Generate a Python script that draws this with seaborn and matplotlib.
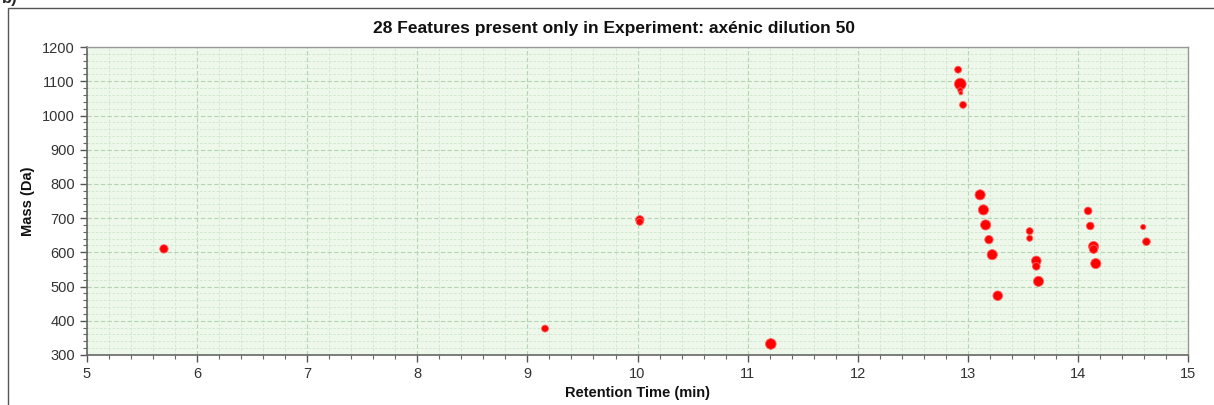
import matplotlib
matplotlib.use("Agg")
import matplotlib.pyplot as plt
from matplotlib.ticker import MultipleLocator
from matplotlib.patches import Rectangle
import seaborn as sns
import pandas as pd

# Feature data
retention_time = [5.70, 9.16, 10.02, 10.02, 11.21,
                  12.91, 12.93, 12.93, 12.935, 12.955,
                  13.11, 13.14, 13.16, 13.19, 13.22, 13.27,
                  13.56, 13.56, 13.62, 13.62, 13.64,
                  14.09, 14.11, 14.14, 14.14, 14.16,
                  14.59, 14.62]
mass = [610, 377, 695, 689, 332,
        1134, 1092, 1074, 1066, 1031,
        768, 724, 680, 637, 593, 473,
        662, 641, 575, 559, 515,
        721, 677, 617, 609, 567,
        674, 631]
abundance = [3, 2, 3, 2, 5,
             2, 6, 1, 0.5, 2,
             4.5, 4.5, 4.5, 3, 4.5, 4,
             2, 1.5, 4, 2.5, 4.5,
             2.5, 2.5, 4.5, 3, 4.5,
             1, 2.5]

title = "28 Features present only in Experiment: axénic dilution 50"
xlabel = "Retention Time (min)"
ylabel = "Mass (Da)"

df = pd.DataFrame({"rt": retention_time, "mass": mass, "ab": abundance})

sns.set_style("white")
plt.rcParams["font.family"] = ["Liberation Sans", "DejaVu Sans"]

W, H = 1214, 405
fig = plt.figure(figsize=(W / 100, H / 100), dpi=100)
ax = fig.add_axes([86.8 / W, 1 - 354.9 / H, (1188.3 - 86.8) / W, (354.9 - 47.1) / H])
ax.set_facecolor("#edf7ea")

sns.scatterplot(data=df, x="rt", y="mass", size="ab", sizes=(8, 70),
                color="#ff0000", edgecolor="#ff6060", linewidth=0.6,
                legend=False, ax=ax, zorder=3)

ax.set_xlim(5, 15)
ax.set_ylim(300, 1200)
ax.xaxis.set_major_locator(MultipleLocator(1))
ax.xaxis.set_minor_locator(MultipleLocator(0.2))
ax.yaxis.set_major_locator(MultipleLocator(100))
ax.yaxis.set_minor_locator(MultipleLocator(20))

ax.grid(which="major", color="#b5d5b2", linestyle=(0, (4, 2)), linewidth=0.8, zorder=0)
ax.grid(which="minor", color="#cfe6cc", linestyle=(0, (3, 2)), linewidth=0.6, zorder=0)
ax.set_axisbelow(True)

ax.tick_params(which="major", direction="out", length=5, width=1, color="#555555",
               labelsize=10.5, labelcolor="#333333", bottom=True, left=True)
ax.tick_params(which="minor", direction="out", length=3, width=0.8, color="#666666",
               bottom=True, left=True)

for side in ["left", "bottom"]:
    ax.spines[side].set_color("#666666")
    ax.spines[side].set_linewidth(1.2)
for side in ["top", "right"]:
    ax.spines[side].set_color("#999999")
    ax.spines[side].set_linewidth(1.0)

fig.text(614 / W, 1 - 28 / H, title, fontsize=12.5, fontweight="bold",
         color="#111111", ha="center", va="center")
ax.set_xlabel(xlabel, fontsize=10.5, fontweight="bold", color="#111111", labelpad=4)
ax.set_ylabel(ylabel, fontsize=10.5, fontweight="bold", color="#111111", labelpad=5)

# outer frame and panel label
fig.patches.append(Rectangle((8.3 / W, -0.1), 1.2, 1 - 8.3 / H + 0.1,
                             transform=fig.transFigure, fill=False,
                             edgecolor="#555555", linewidth=1.0))
fig.text(2 / W, 1 + 2 / H, "b)", fontsize=12, fontweight="bold", va="center", ha="left")

fig.savefig("out.png", dpi=100)
